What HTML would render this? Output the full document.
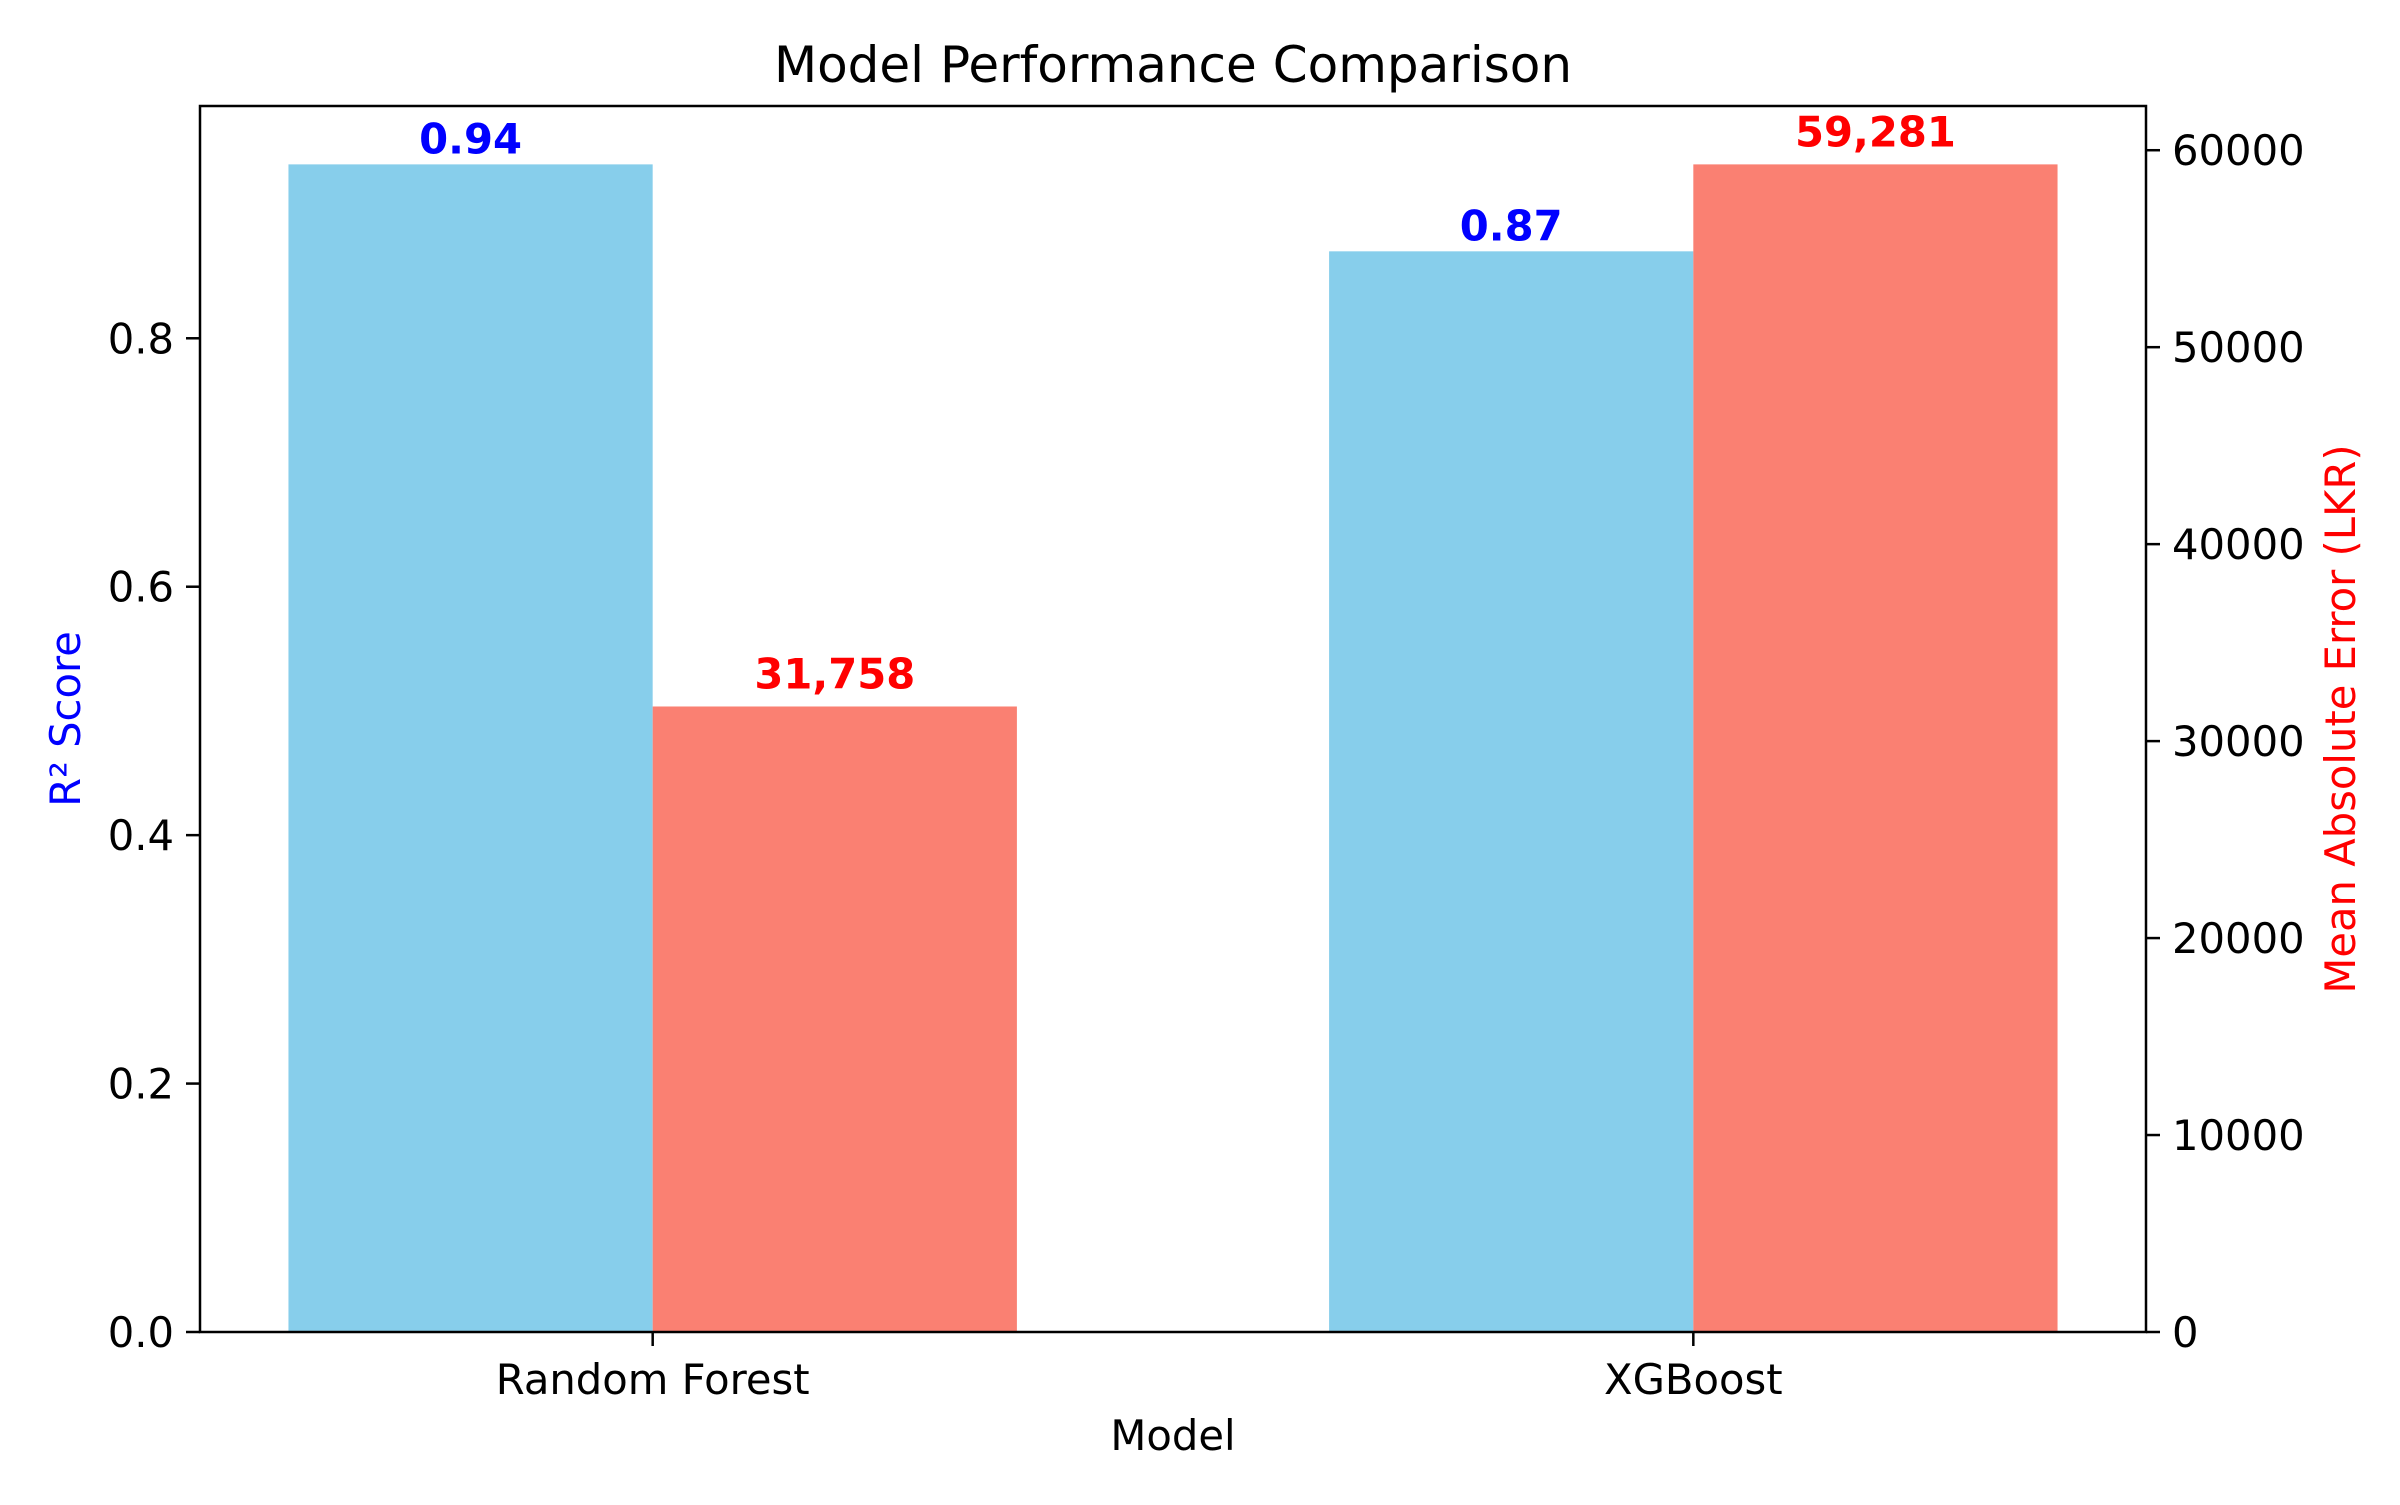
<!DOCTYPE html>
<html><head><meta charset="utf-8"><style>
html,body{margin:0;padding:0;background:#fff}
svg text{font-family:"DejaVu Sans","Liberation Sans",sans-serif}
</style></head><body>
<svg id="chart" width="2400" height="1500" xmlns="http://www.w3.org/2000/svg">
<rect width="2400" height="1500" fill="#fff"/>
<g id="bars"></g>
<g id="axes"></g>
</svg>
<script>
const categories = ["Random Forest", "XGBoost"];
const r2Values = [0.94, 0.87];
const maeValues = [31758, 59281];
const r2Labels = ["0.94", "0.87"];
const maeLabels = ["31,758", "59,281"];
const leftTicks = [0.0, 0.2, 0.4, 0.6, 0.8];
const leftTickLabels = ["0.0", "0.2", "0.4", "0.6", "0.8"];
const rightTicks = [0, 10000, 20000, 30000, 40000, 50000, 60000];
const rightTickLabels = ["0", "10000", "20000", "30000", "40000", "50000", "60000"];

const NS = "http://www.w3.org/2000/svg";
const L = 200, R = 2146, T = 106, B = 1332;
const FS = 41.7;
const barW = 0.35;
const xMin = -barW - 0.085, xMax = (categories.length - 1) + barW + 0.085;
const xS = v => L + (v - xMin) / (xMax - xMin) * (R - L);
const yLmax = Math.max(...r2Values) * 1.05;
const yRmax = Math.max(...maeValues) * 1.05;
const yL = v => B - v / yLmax * (B - T);
const yR = v => B - v / yRmax * (B - T);

function mk(tag, attrs, parent, text) {
  const e = document.createElementNS(NS, tag);
  for (const k in attrs) e.setAttribute(k, attrs[k]);
  if (text !== undefined) e.textContent = text;
  parent.appendChild(e);
  return e;
}
const bars = document.getElementById("bars");
const axes = document.getElementById("axes");
const pxW = xS(barW) - xS(0);

categories.forEach((c, i) => {
  const b1 = mk("rect", {x: xS(i - barW), y: yL(r2Values[i]), width: pxW, height: B - yL(r2Values[i]), fill: "#87ceeb"}, bars);
  
  
  const b2 = mk("rect", {x: xS(i), y: yR(maeValues[i]), width: pxW, height: B - yR(maeValues[i]), fill: "#fa8072"}, bars);
  
  
  const t1 = mk("text", {x: xS(i - barW / 2), y: yL(r2Values[i]) - 11, "text-anchor": "middle", "font-size": FS, "font-weight": "bold", fill: "#0000ff"}, bars, r2Labels[i]);
  
  
  const t2 = mk("text", {x: xS(i + barW / 2), y: yR(maeValues[i]) - 18, "text-anchor": "middle", "font-size": FS, "font-weight": "bold", fill: "#ff0000"}, bars, maeLabels[i]);
  
  
  const tk = mk("line", {x1: xS(i), x2: xS(i), y1: B, y2: B + 14, stroke: "#000", "stroke-width": 2.5}, axes);
  
  
  const tl = mk("text", {x: xS(i), y: B + 62, "text-anchor": "middle", "font-size": FS}, axes, c);
  
  
});

leftTicks.forEach((v, i) => {
  const tk = mk("line", {x1: L - 14, x2: L, y1: yL(v), y2: yL(v), stroke: "#000", "stroke-width": 2.5}, axes);
  
  
  const tl = mk("text", {x: L - 26, y: yL(v) + 15, "text-anchor": "end", "font-size": FS}, axes, leftTickLabels[i]);
  
  
});
rightTicks.forEach((v, i) => {
  const tk = mk("line", {x1: R, x2: R + 14, y1: yR(v), y2: yR(v), stroke: "#000", "stroke-width": 2.5}, axes);
  
  
  const tl = mk("text", {x: R + 26, y: yR(v) + 15, "text-anchor": "start", "font-size": FS}, axes, rightTickLabels[i]);
  
  
});

const frame = mk("rect", {x: L, y: T, width: R - L, height: B - T, fill: "none", stroke: "#000", "stroke-width": 2.5}, axes);


const title = mk("text", {x: (L + R) / 2, y: 82, "text-anchor": "middle", "font-size": 50}, axes, "Model Performance Comparison");


const xt = mk("text", {x: (L + R) / 2, y: 1450, "text-anchor": "middle", "font-size": FS}, axes, "Model");


const yt = mk("text", {x: 0, y: 0, "text-anchor": "middle", "font-size": FS, fill: "#0000ff", transform: `translate(80,${(T + B) / 2}) rotate(-90)`}, axes, "R² Score");


const yt2 = mk("text", {x: 0, y: 0, "text-anchor": "middle", "font-size": FS, fill: "#ff0000", transform: `translate(2355,${(T + B) / 2}) rotate(-90)`}, axes, "Mean Absolute Error (LKR)");


</script>
</body></html>
